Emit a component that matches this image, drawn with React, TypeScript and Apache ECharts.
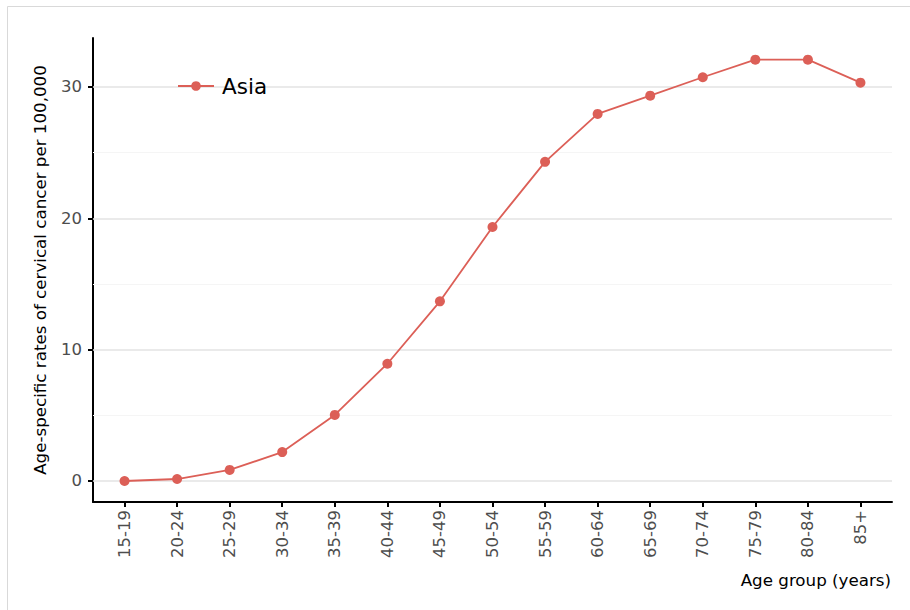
import React, { useEffect, useRef } from "react";
import * as echarts from "echarts";

const categories = ["15-19","20-24","25-29","30-34","35-39","40-44","45-49","50-54","55-59","60-64","65-69","70-74","75-79","80-84","85+"];
const asiaRates = [0.0, 0.15, 0.84, 2.2, 5.03, 8.93, 13.68, 19.34, 24.3, 27.95, 29.34, 30.74, 32.08, 32.08, 30.33];
const yTickValues = [0, 10, 20, 30];
const yMinorValues = [5, 15, 25];
const seriesName = "Asia";
const yAxisTitle = "Age-specific rates of cervical cancer per 100,000";
const xAxisTitle = "Age group (years)";

export default function App() {
  const ref = useRef<HTMLDivElement>(null);
  useEffect(() => {
    if (!ref.current) return;
    const chart = echarts.init(ref.current, null, { renderer: "svg" });
    const font = "DejaVu Sans";
    const idx = categories.map((_, i) => i);
    chart.setOption({
      animation: false,
      backgroundColor: "#ffffff",
      textStyle: { fontFamily: font },
      graphic: [
        {
          type: "rect",
          shape: { x: 7.5, y: 6.5, width: 920, height: 620 },
          style: { fill: "none", stroke: "#d9d9d9", lineWidth: 1 },
          z: -1,
        },
      ],
      grid: { left: 93, right: 18, top: 38, bottom: 108, containLabel: false },
      legend: {
        show: true,
        left: 172,
        top: 70,
        itemWidth: 36,
        itemHeight: 12,
        itemGap: 10,
        textStyle: { fontSize: 21.5, color: "#000", fontFamily: font, padding: [0, 0, 0, 3] },
        data: [{ name: seriesName }],
      },
      xAxis: {
        type: "value",
        min: -0.6,
        max: 14.6,
        name: xAxisTitle,
        nameLocation: "end",
        nameGap: -1,
        nameTextStyle: {
          fontSize: 16.7,
          color: "#000",
          align: "right",
          verticalAlign: "top",
          padding: [69, 0, 0, 0],
          fontFamily: font,
        },
        axisLine: { show: true, onZero: false, lineStyle: { color: "#000", width: 2 } },
        axisTick: { show: true, length: 5, customValues: idx, lineStyle: { color: "#000", width: 2 } },
        axisLabel: {
          customValues: idx,
          rotate: 90,
          margin: 8,
          fontSize: 16.5,
          color: "#4d4d4d",
          fontFamily: font,
          formatter: (v: number) => categories[Math.round(v)] ?? "",
        },
        splitLine: { show: false },
      },
      yAxis: {
        type: "value",
        min: -1.6,
        max: 33.73,
        name: yAxisTitle,
        nameLocation: "middle",
        nameGap: 45,
        nameRotate: 90,
        nameTextStyle: { fontSize: 16.7, color: "#000", fontFamily: font },
        axisLine: { show: true, onZero: false, lineStyle: { color: "#000", width: 2 } },
        axisTick: { show: true, length: 5, customValues: yTickValues, lineStyle: { color: "#000", width: 2 } },
        axisLabel: { customValues: yTickValues, margin: 11, fontSize: 16.5, color: "#4d4d4d", fontFamily: font },
        splitLine: { show: false },
      },
      series: [
        {
          name: seriesName,
          type: "line",
          data: asiaRates.map((v, i) => [i, v]),
          symbol: "circle",
          symbolSize: 10,
          itemStyle: { color: "#dc5f57" },
          lineStyle: { color: "#dc5f57", width: 1.8 },
          z: 3,
          markLine: {
            silent: true,
            symbol: "none",
            label: { show: false },
            z: 1,
            data: [
              ...yTickValues.map((v) => ({ yAxis: v, lineStyle: { color: "#e3e3e3", width: 1.5, type: "solid" } })),
              ...yMinorValues.map((v) => ({ yAxis: v, lineStyle: { color: "#f5f5f5", width: 1.2, type: "solid" } })),
            ],
          },
        },
      ],
    });
    return () => chart.dispose();
  }, []);
  return <div ref={ref} style={{ width: 910, height: 610, position: "absolute", left: 0, top: 0 }} />;
}
